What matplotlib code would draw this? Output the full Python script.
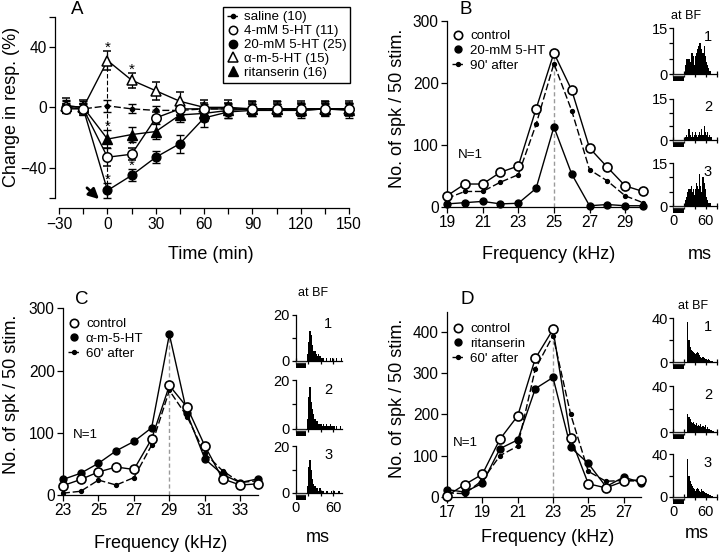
import numpy as np
import matplotlib
matplotlib.use('Agg')
import matplotlib.pyplot as plt
from matplotlib.lines import Line2D
from matplotlib.patches import Rectangle

plt.rcParams['font.family'] = ['Liberation Sans', 'DejaVu Sans']
plt.rcParams['axes.linewidth'] = 0.9
plt.rcParams['xtick.major.width'] = 0.9
plt.rcParams['ytick.major.width'] = 0.9
plt.rcParams['xtick.minor.width'] = 0.9
plt.rcParams['ytick.minor.width'] = 0.9

# ---- panel A: time course (mean +- s.e.)
time_min = [-26, -15, 0, 15, 30, 45, 60, 75, 90, 105, 120, 135, 150]
saline = [0, -1, 1, -1, -2, -2, -1, -1, -1, -1, -1, -1, -1]
saline_err = [4, 4, 4, 3, 3, 3, 3, 3, 3, 3, 3, 3, 3]
ht4 = [-1, -1, -33, -31, -7, -1, -1, -1, -1, -1, -1, -1, -1]
ht4_err = [3, 3, 6, 4, 4, 4, 4, 4, 4, 4, 4, 4, 4]
ht20 = [0, -1, -55, -45, -33, -24, -7, -3, -2, -2, -2, -1, -1]
ht20_err = [3, 3, 5, 4, 4, 6, 6, 4, 4, 4, 4, 4, 4]
amht = [1, 0, 31, 18, 11, 4, 0, 0, -1, -1, -1, -1, -1]
amht_err = [5, 5, 6, 5, 6, 6, 5, 5, 5, 5, 5, 5, 5]
ritan = [1, 0, -21, -18, -16, -5, -4, -2, -1, -1, -2, -1, -2]
ritan_err = [4, 4, 6, 5, 5, 5, 5, 5, 5, 5, 5, 5, 5]
# significant points: (time index, series)
signif = [(2, 'amht'), (2, 'ritan'), (2, 'ht4'), (2, 'ht20'),
          (3, 'amht'), (3, 'ht4'), (3, 'ht20')]

# ---- panel B: tuning curves
freq_b = [19, 20, 21, 22, 23, 24, 25, 26, 27, 28, 29, 30]
ctrl_b = [18, 37, 37, 56, 66, 158, 248, 188, 95, 64, 34, 25]
drug_b = [5, 7, 9, 5, 6, 30, 129, 53, 2, 4, 2, 2]
rec_b = [14, 25, 25, 40, 52, 133, 231, 155, 60, 42, 18, 7]

# ---- panel C
freq_c = [23, 24, 25, 26, 27, 28, 29, 30, 31, 32, 33, 34]
ctrl_c = [15, 25, 37, 45, 41, 90, 176, 141, 79, 26, 16, 18]
drug_c = [25, 35, 51, 71, 86, 108, 258, 131, 58, 33, 20, 26]
rec_c = [3, 6, 24, 16, 28, 80, 168, 126, 67, 39, 20, 23]

# ---- panel D
freq_d = [17, 18, 19, 20, 21, 22, 23, 24, 25, 26, 27, 28]
ctrl_d = [3, 30, 55, 140, 196, 335, 405, 143, 32, 22, 38, 42]
drug_d = [18, 12, 33, 117, 138, 262, 289, 120, 81, 25, 48, 35]
rec_d = [10, 8, 40, 100, 123, 310, 390, 200, 62, 38, 40, 38]

# ---- PSTHs at BF (2-ms bins from 0 ms)
bin_ms = 2
psth_b1 = [0] * 11 + [3, 5, 5, 5, 4, 7, 7, 6, 3, 6, 7, 8, 9, 10, 10, 8, 7, 9, 6, 4, 3, 2, 1, 1, 0] + [0] * 4
psth_b2 = [0] * 11 + [1, 2, 1, 4, 2, 1, 3, 1, 2, 3, 2, 1, 2, 3, 2, 4, 2, 5, 3, 2, 3, 1, 2, 1, 1] + [0] * 4
psth_b3 = [0] * 11 + [2, 3, 5, 6, 6, 7, 5, 6, 4, 6, 8, 7, 6, 11, 7, 5, 10, 8, 6, 3, 2, 1, 1, 1, 0] + [0] * 4
psth_c1 = [0] * 9 + [3, 8, 13, 11, 7, 4, 4, 3, 2, 3, 2, 1, 1, 1, 0, 1, 0, 0, 1, 0, 1, 0, 0, 1, 0, 0, 0, 1, 0, 0, 0]
psth_c2 = [0] * 9 + [4, 13, 17, 11, 8, 6, 4, 3, 3, 2, 2, 2, 1, 2, 1, 2, 1, 1, 2, 1, 1, 1, 0, 1, 0, 0, 1, 0, 0, 0, 0]
psth_c3 = [0] * 9 + [3, 11, 14, 10, 6, 4, 3, 2, 2, 1, 2, 1, 1, 1, 0, 1, 1, 0, 0, 1, 0, 1, 0, 0, 0, 1, 0, 0, 0, 0, 0]
psth_d1 = [0] * 13 + [36, 20, 14, 11, 10, 9, 8, 7, 8, 9, 8, 6, 5, 4, 5, 4, 3, 3, 2, 3, 2, 1, 1, 1, 0, 0, 0]
psth_d2 = [0] * 13 + [16, 13, 11, 9, 8, 9, 7, 6, 8, 5, 6, 5, 7, 4, 5, 4, 6, 3, 4, 3, 3, 2, 2, 1, 1, 0, 0]
psth_d3 = [0] * 13 + [35, 20, 15, 12, 10, 8, 7, 6, 7, 8, 7, 6, 5, 7, 6, 5, 4, 4, 3, 3, 2, 2, 1, 1, 0, 0, 0]

W, H = 720, 552
fig = plt.figure(figsize=(7.2, 5.52), dpi=100)
TICK_FS = 11.2
LAB_FS = 13
LEG_FS = 9.6


def px_ax(x0, y0, x1, y1):
    return fig.add_axes([x0 / W, 1 - y1 / H, (x1 - x0) / W, (y1 - y0) / H])


def px_text(x, y, s, **kw):
    kw.setdefault('ha', 'center')
    kw.setdefault('va', 'center')
    fig.text(x / W, 1 - y / H, s, **kw)


def style_ax(ax):
    for s in ['top', 'right']:
        ax.spines[s].set_visible(False)
    ax.tick_params(direction='out', length=4, labelsize=TICK_FS, pad=2)


# ================= A =================
axA = px_ax(55, 16.7, 355, 208.3)
style_ax(axA)
axA.set_xlim(-32.6, 153.7)
axA.set_ylim(-66.8, 60)
axA.spines['left'].set_bounds(-60, 60)
axA.spines['bottom'].set_bounds(-30, 150)
axA.set_yticks([-40, 0, 40])
axA.set_yticks([-60, 60], minor=True)
axA.tick_params(which='minor', direction='out', length=4)
axA.set_xticks(np.arange(-30, 151, 30))
axA.set_xticks(np.arange(-15, 151, 30), minor=True)

series = {'saline': saline, 'ht4': ht4, 'ht20': ht20, 'amht': amht, 'ritan': ritan}
errs = {'saline': saline_err, 'ht4': ht4_err, 'ht20': ht20_err, 'amht': amht_err, 'ritan': ritan_err}

# vertical dashed reference at drug onset
axA.vlines(0, ht20[2] - ht20_err[2], amht[2] + amht_err[2], colors='k',
           linestyles=(0, (4, 2)), lw=0.8, zorder=1)

axA.errorbar(time_min, saline, yerr=saline_err, color='k', lw=1, ls=(0, (5, 2)),
             marker='o', ms=3, capsize=3, elinewidth=0.9, zorder=3)
axA.errorbar(time_min, ritan, yerr=ritan_err, color='k', lw=1, marker='^', ms=7,
             capsize=3, elinewidth=0.9, zorder=4)
axA.errorbar(time_min, ht20, yerr=ht20_err, color='k', lw=1, marker='o', ms=6.3,
             capsize=3, elinewidth=0.9, zorder=4)
axA.errorbar(time_min, amht, yerr=amht_err, color='k', lw=1, marker='^', ms=7.5,
             mfc='white', mew=1.1, capsize=3, elinewidth=0.9, zorder=5)
axA.errorbar(time_min, ht4, yerr=ht4_err, color='k', lw=1, marker='o', ms=6.8,
             mfc='white', mew=1.1, capsize=3, elinewidth=0.9, zorder=5)

for i, key in signif:
    axA.text(time_min[i], series[key][i] + errs[key][i] - 2.5, '*', ha='center',
             va='bottom', fontsize=11, zorder=6)

axA.annotate('', xy=(-4, -62), xytext=(-14, -52),
             arrowprops=dict(arrowstyle='-|>', color='k', lw=2, mutation_scale=15),
             annotation_clip=False)

legA_h = [Line2D([], [], color='k', ls=(0, (3, 1.5)), lw=1, marker='o', ms=3),
          Line2D([], [], ls='none', marker='o', ms=6, mfc='white', mec='k', mew=1.1),
          Line2D([], [], ls='none', marker='o', ms=6, color='k'),
          Line2D([], [], ls='none', marker='^', ms=6.5, mfc='white', mec='k', mew=1.1),
          Line2D([], [], ls='none', marker='^', ms=6.5, color='k')]
legA_l = ['saline (10)', '4-mM 5-HT (11)', '20-mM 5-HT (25)',
          '\u03b1-m-5-HT (15)', 'ritanserin (16)']
legA = axA.legend(legA_h, legA_l, loc='upper left', bbox_to_anchor=(223 / W, 1 - 7 / H),
                  bbox_transform=fig.transFigure, fontsize=LEG_FS, frameon=True,
                  fancybox=False, edgecolor='k', framealpha=1, handlelength=0.9,
                  handletextpad=0.35, borderpad=0.3, borderaxespad=0, labelspacing=0.12)
legA.get_frame().set_linewidth(1.0)
legA.set_zorder(10)

px_text(77, 9, 'A', fontsize=13.5)
px_text(12, 107, 'Change in resp. (%)', fontsize=LAB_FS, rotation=90)
px_text(211, 255, 'Time (min)', fontsize=LAB_FS)


# ================= tuning curves =================
def tuning(rect, freq, ctrl, drug, rec, xlim, ylim, yticks, xticks):
    ax = px_ax(*rect)
    style_ax(ax)
    ax.set_xlim(*xlim)
    ax.set_ylim(*ylim)
    ax.set_yticks(yticks)
    ax.set_xticks(xticks)
    i_bf = int(np.argmax(ctrl))
    ax.vlines(freq[i_bf], 0, max(ctrl[i_bf], drug[i_bf], rec[i_bf]), colors='#9a9a9a',
              linestyles=(0, (3, 2)), lw=1, zorder=1)
    ax.plot(freq, rec, color='k', lw=1, ls=(0, (5, 2)), marker='o', ms=2.8,
            clip_on=False, zorder=3)
    ax.plot(freq, drug, color='k', lw=1, marker='o', ms=5, clip_on=False, zorder=4)
    ax.plot(freq, ctrl, color='k', lw=1, marker='o', ms=6.5, mfc='white', mew=1.2,
            clip_on=False, zorder=5)
    return ax


def tuning_legend(ax, labels, x, y):
    h = [Line2D([], [], ls='none', marker='o', ms=6, mfc='white', mec='k', mew=1.2),
         Line2D([], [], ls='none', marker='o', ms=5, color='k'),
         Line2D([], [], color='k', ls=(0, (3, 1.5)), lw=1, marker='o', ms=2.8)]
    ax.legend(h, labels, loc='upper left', bbox_to_anchor=(x / W, 1 - y / H),
              bbox_transform=fig.transFigure, fontsize=LEG_FS, frameon=False,
              handlelength=0.9, handletextpad=0.45, borderpad=0, borderaxespad=0,
              labelspacing=0.18)


axB = tuning((447, 20.7, 643, 207), freq_b, ctrl_b, drug_b, rec_b, (19, 30), (0, 300),
             [0, 100, 200, 300], [19, 21, 23, 25, 27, 29])
tuning_legend(axB, ['control', '20-mM 5-HT', "90' after"], 452, 30)
axC = tuning((63, 308.3, 258, 495), freq_c, ctrl_c, drug_c, rec_c, (23, 34), (0, 300),
             [0, 100, 200, 300], [23, 25, 27, 29, 31, 33])
tuning_legend(axC, ['control', '\u03b1-m-5-HT', "60' after"], 68, 318)
axD = tuning((447, 311.7, 641.3, 497), freq_d, ctrl_d, drug_d, rec_d, (17, 28), (0, 448),
             [0, 100, 200, 300, 400], [17, 19, 21, 23, 25, 27])
tuning_legend(axD, ['control', 'ritanserin', "60' after"], 452, 323)

px_text(466, 9, 'B', fontsize=13.5)
px_text(82, 300, 'C', fontsize=13.5)
px_text(467, 300, 'D', fontsize=13.5)
px_text(470, 155, 'N=1', fontsize=LEG_FS)
px_text(85, 435, 'N=1', fontsize=LEG_FS)
px_text(465, 443, 'N=1', fontsize=LEG_FS)
px_text(398, 108, 'No. of spk / 50 stim.', fontsize=LAB_FS, rotation=90)
px_text(12, 394, 'No. of spk / 50 stim.', fontsize=LAB_FS, rotation=90)
px_text(398, 398, 'No. of spk / 50 stim.', fontsize=LAB_FS, rotation=90)
px_text(549, 255, 'Frequency (kHz)', fontsize=LAB_FS)
px_text(161, 543, 'Frequency (kHz)', fontsize=LAB_FS)
px_text(548, 538, 'Frequency (kHz)', fontsize=LAB_FS)


# ================= PSTHs =================
def psth(x0, y0px, ytop_px, top, xmax, pxms, vals, num, bar_ms, show_x):
    ppu = (y0px - ytop_px) / top
    ax = px_ax(x0, ytop_px - 2, x0 + xmax * pxms, y0px + 9)
    ax.set_xlim(0, xmax)
    ax.set_ylim(-9 / ppu, top + 2 / ppu)
    for s in ['top', 'right']:
        ax.spines[s].set_visible(False)
    ax.spines['bottom'].set_position(('data', 0))
    ax.spines['left'].set_bounds(0, top)
    edges = np.arange(len(vals)) * bin_ms
    ax.bar(edges, vals, width=bin_ms, align='edge', color='k', lw=0)
    bar_h = 7 / ppu
    ax.add_patch(Rectangle((0, -bar_h), bar_ms, bar_h, fc='k', ec='none', clip_on=False))
    ax.hlines(-0.2 * bar_h, 0, bar_ms, colors='#bbbbbb', lw=1, zorder=5)
    ax.set_yticks([0, top])
    ax.set_yticks([top / 3, 2 * top / 3] if top == 15 else [top / 2], minor=True)
    ax.set_xticks([0, 60])
    ax.set_xticks([m for m in (20, 40, 80) if m <= xmax], minor=True)
    ax.tick_params(axis='y', which='both', direction='out', length=3, labelsize=10.5, pad=1)
    ax.tick_params(axis='x', which='both', direction='inout', length=4, labelsize=10.5, pad=4)
    if not show_x:
        ax.set_xticklabels([])
    ax.text(0.8 * xmax if xmax > 75 else 0.7 * xmax, 0.8 * top, num, ha='center',
            va='center', fontsize=10.5)
    return ax


for vals, num, y0, yt in [(psth_b1, '1', 74, 28), (psth_b2, '2', 140, 99),
                          (psth_b3, '3', 206, 163)]:
    psth(673.3, y0, yt, 15, 80, 0.54, vals, num, 20, num == '3')
for vals, num, y0, yt in [(psth_c1, '1', 360.5, 315), (psth_c2, '2', 428.5, 380),
                          (psth_c3, '3', 493, 446)]:
    psth(295.5, y0, yt, 20, 74, 0.63, vals, num, 16, num == '3')
for vals, num, y0, yt in [(psth_d1, '1', 362, 318), (psth_d2, '2', 432, 386),
                          (psth_d3, '3', 497, 454)]:
    psth(673.3, y0, yt, 40, 80, 0.54, vals, num, 20, num == '3')

px_text(686, 16, 'at BF', fontsize=9)
px_text(313, 293, 'at BF', fontsize=9)
px_text(693, 306, 'at BF', fontsize=9)
px_text(700, 255, 'ms', fontsize=LAB_FS)
px_text(318, 538, 'ms', fontsize=LAB_FS)
px_text(697, 533, 'ms', fontsize=LAB_FS)

fig.savefig('out.png', dpi=100)
